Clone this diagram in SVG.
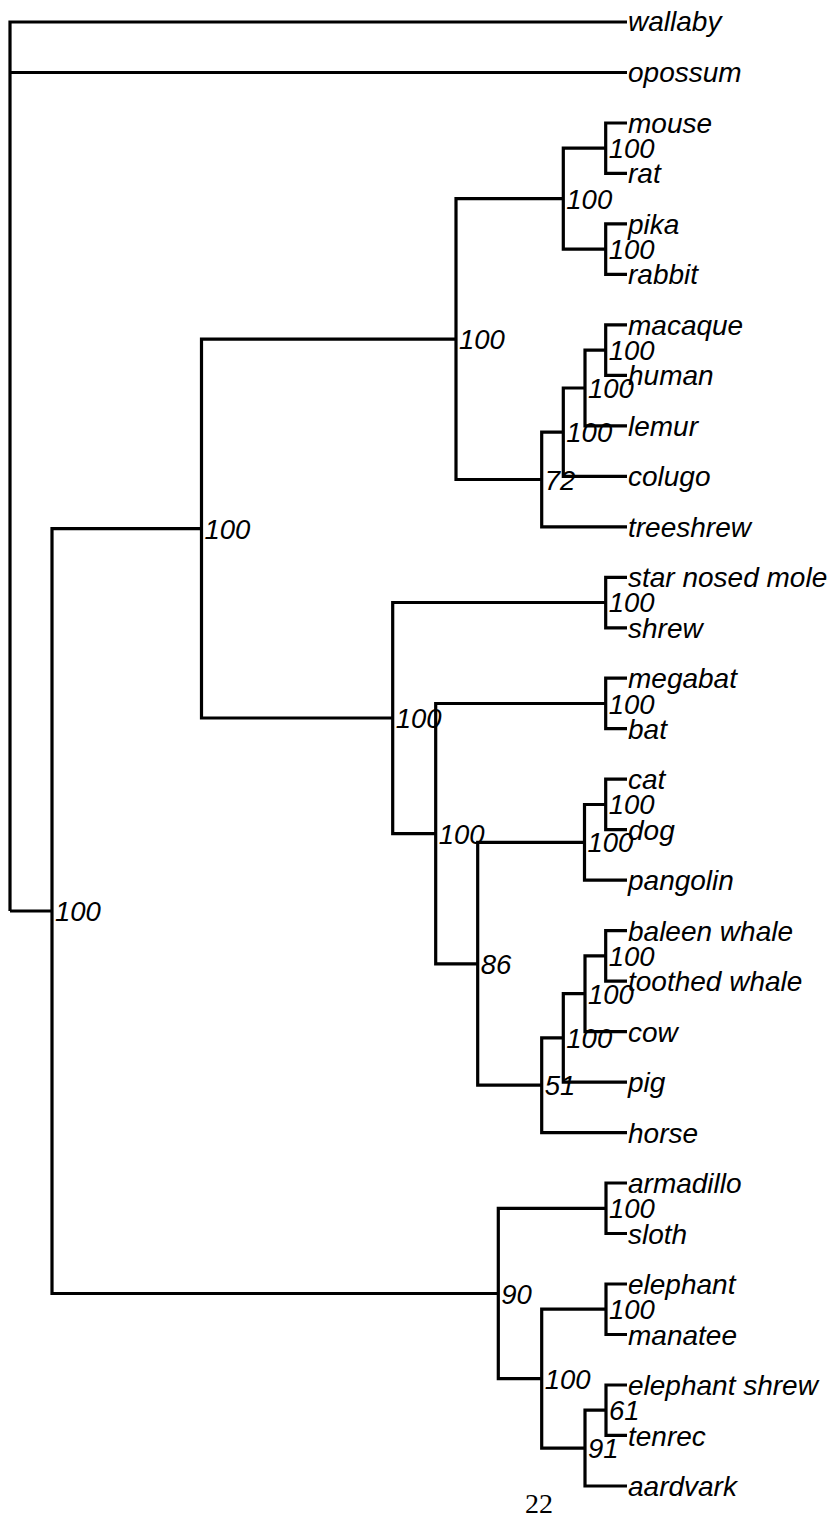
<svg xmlns="http://www.w3.org/2000/svg" width="839" height="1527" viewBox="0 0 839 1527">
<style>
.e{fill:none;stroke:#000;stroke-width:3.2;stroke-linejoin:miter;stroke-linecap:butt}
.t{font-family:"Liberation Sans",Arial,sans-serif;font-style:italic;font-size:28px;fill:#000}
.s{font-family:"Liberation Sans",Arial,sans-serif;font-style:italic;font-size:27.5px;fill:#000}
.pg{font-family:"Liberation Serif","Times New Roman",serif;font-size:28px;fill:#000}
</style>
<rect width="839" height="1527" fill="#fff"/>
<g id="connectors">
<path class="e" d="M10,911V22H627M10,72.5H627M10,911H52"/>
<path class="e" d="M52,911V528.6H201.5M52,911V1293.5H498.3"/>
<path class="e" d="M201.5,528.6V339.1H456M201.5,528.6V718H392.7"/>
<path class="e" d="M456,339.1V198.7H563.3M456,339.1V479.5H541.7"/>
<path class="e" d="M563.3,198.7V148.2H605.7M563.3,198.7V249.2H605.7"/>
<path class="e" d="M605.7,148.2V123H627M605.7,148.2V173.4H627"/>
<path class="e" d="M605.7,249.2V223.9H627M605.7,249.2V274.4H627"/>
<path class="e" d="M541.7,479.5V432.1H563.3M541.7,479.5V526.8H627"/>
<path class="e" d="M563.3,432.1V388H585M563.3,432.1V476.3H627"/>
<path class="e" d="M585,388V350.2H605.7M585,388V425.8H627"/>
<path class="e" d="M605.7,350.2V324.9H627M605.7,350.2V375.4H627"/>
<path class="e" d="M392.7,718V602.5H605.7M392.7,718V833.6H435.7"/>
<path class="e" d="M605.7,602.5V577.3H627M605.7,602.5V627.8H627"/>
<path class="e" d="M435.7,833.6V703.5H605.7M435.7,833.6V963.8H477.7"/>
<path class="e" d="M605.7,703.5V678.2H627M605.7,703.5V728.7H627"/>
<path class="e" d="M477.7,963.8V842.3H584.5M477.7,963.8V1085.2H541.7"/>
<path class="e" d="M584.5,842.3V804.5H605.7M584.5,842.3V880.2H627"/>
<path class="e" d="M605.7,804.5V779.2H627M605.7,804.5V829.7H627"/>
<path class="e" d="M541.7,1085.2V1037.9H563.3M541.7,1085.2V1132.6H627"/>
<path class="e" d="M563.3,1037.9V993.7H585M563.3,1037.9V1082.1H627"/>
<path class="e" d="M585,993.7V955.9H605.7M585,993.7V1031.6H627"/>
<path class="e" d="M605.7,955.9V930.6H627M605.7,955.9V981.1H627"/>
<path class="e" d="M498.3,1293.5V1208.3H606M498.3,1293.5V1378.7H541.7"/>
<path class="e" d="M606,1208.3V1183H627M606,1208.3V1233.5H627"/>
<path class="e" d="M541.7,1378.7V1309.2H606M541.7,1378.7V1448.1H585"/>
<path class="e" d="M606,1309.2V1284H627M606,1309.2V1334.5H627"/>
<path class="e" d="M585,1448.1V1410.2H606M585,1448.1V1486H627"/>
<path class="e" d="M606,1410.2V1385H627M606,1410.2V1435.4H627"/>
</g>
<g id="leaves">
<g id="wallaby"><text class="t" x="628" y="31">wallaby</text></g>
<g id="opossum"><text class="t" x="628" y="82">opossum</text></g>
<g id="mouse"><text class="t" x="628" y="133">mouse</text></g>
<g id="rat"><text class="t" x="628" y="183">rat</text></g>
<g id="pika"><text class="t" x="628" y="234">pika</text></g>
<g id="rabbit"><text class="t" x="628" y="284">rabbit</text></g>
<g id="macaque"><text class="t" x="628" y="335">macaque</text></g>
<g id="human"><text class="t" x="628" y="385">human</text></g>
<g id="lemur"><text class="t" x="628" y="436">lemur</text></g>
<g id="colugo"><text class="t" x="628" y="486">colugo</text></g>
<g id="treeshrew"><text class="t" x="628" y="537">treeshrew</text></g>
<g id="star_nosed_mole"><text class="t" x="628" y="587">star nosed mole</text></g>
<g id="shrew"><text class="t" x="628" y="638">shrew</text></g>
<g id="megabat"><text class="t" x="628" y="688">megabat</text></g>
<g id="bat"><text class="t" x="628" y="739">bat</text></g>
<g id="cat"><text class="t" x="628" y="789">cat</text></g>
<g id="dog"><text class="t" x="628" y="840">dog</text></g>
<g id="pangolin"><text class="t" x="628" y="890">pangolin</text></g>
<g id="baleen_whale"><text class="t" x="628" y="941">baleen whale</text></g>
<g id="toothed_whale"><text class="t" x="628" y="991">toothed whale</text></g>
<g id="cow"><text class="t" x="628" y="1042">cow</text></g>
<g id="pig"><text class="t" x="628" y="1092">pig</text></g>
<g id="horse"><text class="t" x="628" y="1143">horse</text></g>
<g id="armadillo"><text class="t" x="628" y="1193">armadillo</text></g>
<g id="sloth"><text class="t" x="628" y="1244">sloth</text></g>
<g id="elephant"><text class="t" x="628" y="1294">elephant</text></g>
<g id="manatee"><text class="t" x="628" y="1345">manatee</text></g>
<g id="elephant_shrew"><text class="t" x="628" y="1395">elephant shrew</text></g>
<g id="tenrec"><text class="t" x="628" y="1446">tenrec</text></g>
<g id="aardvark"><text class="t" x="628" y="1496">aardvark</text></g>
</g>
<g id="internal-nodes">
<g id="n_eutheria"><text class="s" x="55" y="921">100</text></g>
<g id="n_boreo"><text class="s" x="204.5" y="539">100</text></g>
<g id="n_euarch"><text class="s" x="459" y="349">100</text></g>
<g id="n_glires"><text class="s" x="566.3" y="209">100</text></g>
<g id="n_mouse_rat"><text class="s" x="608.7" y="158">100</text></g>
<g id="n_pika_rabbit"><text class="s" x="608.7" y="259">100</text></g>
<g id="n_euarchonta"><text class="s" x="544.7" y="490">72</text></g>
<g id="n_primates_colugo"><text class="s" x="566.3" y="442">100</text></g>
<g id="n_primates"><text class="s" x="588" y="398">100</text></g>
<g id="n_macaque_human"><text class="s" x="608.7" y="360">100</text></g>
<g id="n_laurasia"><text class="s" x="395.7" y="728">100</text></g>
<g id="n_mole_shrew"><text class="s" x="608.7" y="612">100</text></g>
<g id="n_scrotifera"><text class="s" x="438.7" y="844">100</text></g>
<g id="n_bats"><text class="s" x="608.7" y="714">100</text></g>
<g id="n_86"><text class="s" x="480.7" y="974">86</text></g>
<g id="n_ferae"><text class="s" x="587.5" y="852">100</text></g>
<g id="n_cat_dog"><text class="s" x="608.7" y="814">100</text></g>
<g id="n_51"><text class="s" x="544.7" y="1095">51</text></g>
<g id="n_cetart"><text class="s" x="566.3" y="1048">100</text></g>
<g id="n_whales_cow"><text class="s" x="588" y="1004">100</text></g>
<g id="n_whales"><text class="s" x="608.7" y="966">100</text></g>
<g id="n_atl"><text class="s" x="501.3" y="1304">90</text></g>
<g id="n_xenarthra"><text class="s" x="609" y="1218">100</text></g>
<g id="n_afrotheria"><text class="s" x="544.7" y="1389">100</text></g>
<g id="n_eleph_manatee"><text class="s" x="609" y="1319">100</text></g>
<g id="n_91"><text class="s" x="588" y="1458">91</text></g>
<g id="n_61"><text class="s" x="609" y="1420">61</text></g>
</g>
<text class="pg" x="539" y="1513" text-anchor="middle">22</text>
</svg>
